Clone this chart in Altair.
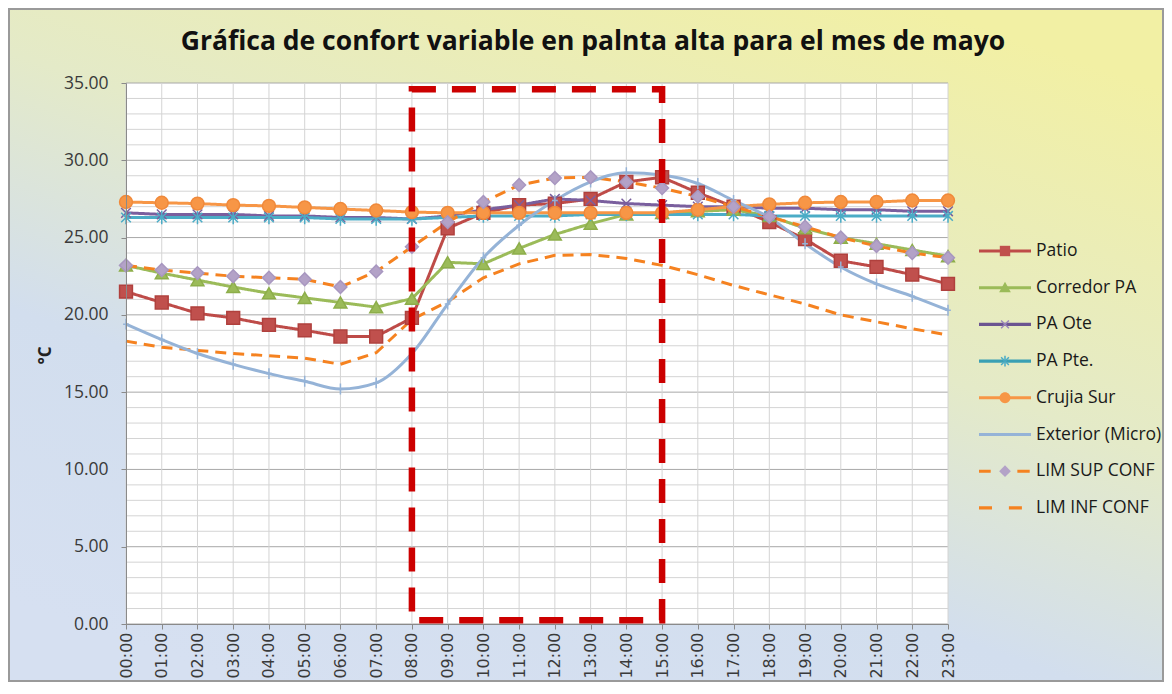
import json
import altair as alt
import pandas as pd

# ---------------- data ----------------
title_text = "Gráfica de confort variable en palnta alta para el mes de  mayo"
y_title = "°C"
hours = ["00:00", "01:00", "02:00", "03:00", "04:00", "05:00", "06:00", "07:00",
         "08:00", "09:00", "10:00", "11:00", "12:00", "13:00", "14:00", "15:00",
         "16:00", "17:00", "18:00", "19:00", "20:00", "21:00", "22:00", "23:00"]
series_names = ["Patio", "Corredor PA", "PA Ote", "PA Pte.", "Crujia Sur",
                "Exterior (Micro)", "LIM SUP CONF", "LIM INF CONF"]

patio = [21.5, 20.8, 20.1, 19.8, 19.35, 19.0, 18.6, 18.6, 19.8, 25.6, 26.6, 27.1,
         27.2, 27.5, 28.6, 28.9, 27.9, 27.0, 26.0, 24.9, 23.5, 23.1, 22.6, 22.0]
corredor = [23.2, 22.7, 22.25, 21.8, 21.4, 21.1, 20.8, 20.5, 21.05, 23.4, 23.3, 24.3,
            25.2, 25.9, 26.5, 26.6, 26.7, 26.8, 26.4, 25.6, 25.0, 24.6, 24.2, 23.8]
pa_ote = [26.6, 26.5, 26.5, 26.5, 26.4, 26.4, 26.3, 26.3, 26.2, 26.4, 26.8, 27.1,
          27.5, 27.4, 27.2, 27.1, 27.0, 27.0, 26.9, 26.9, 26.8, 26.8, 26.7, 26.7]
pa_pte = [26.3, 26.3, 26.3, 26.3, 26.3, 26.3, 26.2, 26.2, 26.2, 26.3, 26.4, 26.4,
          26.4, 26.5, 26.5, 26.5, 26.5, 26.5, 26.4, 26.4, 26.4, 26.4, 26.4, 26.4]
crujia = [27.3, 27.25, 27.2, 27.1, 27.05, 26.95, 26.85, 26.75, 26.65, 26.6, 26.6, 26.6,
          26.6, 26.6, 26.6, 26.6, 26.8, 27.0, 27.15, 27.25, 27.3, 27.3, 27.4, 27.4]
exterior = [19.4, 18.4, 17.5, 16.8, 16.2, 15.7, 15.2, 15.6, 17.5, 20.7, 23.7, 25.8,
            27.4, 28.6, 29.2, 29.05, 28.5, 27.4, 26.3, 24.6, 23.1, 22.0, 21.2, 20.3]
lim_sup = [23.2, 22.9, 22.7, 22.5, 22.4, 22.3, 21.8, 22.8, 24.4, 26.0, 27.3, 28.4,
           28.85, 28.9, 28.6, 28.2, 27.65, 27.0, 26.35, 25.7, 25.0, 24.45, 24.0, 23.7]
lim_inf = [18.3, 17.9, 17.7, 17.5, 17.35, 17.2, 16.8, 17.55, 19.7, 20.85, 22.4, 23.3,
           23.85, 23.9, 23.65, 23.2, 22.6, 21.9, 21.3, 20.7, 20.0, 19.55, 19.1, 18.7]
series_values = [patio, corredor, pa_ote, pa_pte, crujia, exterior, lim_sup, lim_inf]

box_hours = ["08:00", "15:00"]
box_temps = [0.25, 34.6]
y_ticks = [0, 5, 10, 15, 20, 25, 30, 35]
y_grid = list(range(0, 36))

# ---------------- styling ----------------
FONT = "Open Sans"
XFONT = "DejaVu Sans"
W, H = 822, 541
line_colors = ["#BE4B48", "#9BBB59", "#7A5F9E", "#4BACC6", "#F79646", "#95B3D7", "#F58220", "#F58220"]
dash_patterns = [[1, 0], [1, 0], [1, 0], [1, 0], [1, 0], [1, 0], [11, 7], [11, 7]]

marker_series = ["Patio", "Corredor PA", "PA Ote", "PA Pte.", "Crujia Sur", "Exterior (Micro)", "LIM SUP CONF"]
marker_shapes = ["square", "triangle-up", "M-0.75,-0.75L0.75,0.75M-0.75,0.75L0.75,-0.75",
                 "M-0.75,-0.75L0.75,0.75M-0.75,0.75L0.75,-0.75M0,-1.05L0,1.05",
                 "circle", "M-0.45,0L0.45,0M0,-0.85L0,0.85", "diamond"]
marker_fill = ["#C0504D", "#9BBB59", "transparent", "transparent", "#F79646", "transparent", "#B3A2C7"]
marker_stroke = ["#B0403D", "#8DAE4A", "#7A5F9E", "#4BACC6", "#F0893A", "#95B3D7", "#A897C0"]

# legend symbols (unit = 13px, symbol spans -1..3)
L_SOLID = "M-1,-0.12H3V0.12H-1Z"
L_DASH_SUP = "M-1,-0.12H-0.1V0.12H-1Z M1.95,-0.12H2.9V0.12H1.95Z"
L_DASH_INF = "M-1,-0.12H0V0.12H-1Z M1.3,-0.12H2.3V0.12H1.3Z"
legend_lines = [L_SOLID] * 6 + [L_DASH_SUP, L_DASH_INF]
legend_line_colors = ["#BE4B48", "#9BBB59", "#6B5491", "#3AA0B4", "#F79646", "#95B3D7", "#F58220", "#F58220"]
X_PATH = ("M0.66,-0.26L1.26,0.34L1.34,0.26L0.74,-0.34Z "
          "M0.74,0.34L1.34,-0.26L1.26,-0.34L0.66,0.26Z")
legend_marks = ["M0.6,-0.4H1.4V0.4H0.6Z",
                "M1,-0.45L1.45,0.35H0.55Z",
                X_PATH,
                X_PATH + " M0.94,-0.42H1.06V0.42H0.94Z",
                "M1.42,0A0.42,0.42 0 1 1 0.58,0A0.42,0.42 0 1 1 1.42,0Z",
                "M0.95,-0.3H1.05V0.3H0.95Z",
                "M1,-0.45L1.45,0L1,0.45L0.55,0Z",
                "M1,0Z"]
legend_mark_colors = ["#C0504D", "#9BBB59", "#9A86BA", "#4BACC6", "#F79646", "transparent", "#B3A2C7", "transparent"]

# ---------------- tables ----------------
rows = []
for name, vals in zip(series_names, series_values):
    for i, v in enumerate(vals):
        rows.append({"hour": i, "series": name, "value": v})
df = pd.DataFrame(rows)
legend_df = pd.DataFrame({"series": series_names})
one = pd.DataFrame({"k": [0]})
hgrid_df = pd.DataFrame({"v": y_grid})
vgrid_df = pd.DataFrame({"h": list(range(len(hours)))})
box_df = pd.DataFrame({"x0": [hours.index(box_hours[0])], "x1": [hours.index(box_hours[1])],
                       "y0": [box_temps[0]], "y1": [box_temps[1]]})

xscale = alt.Scale(domain=[0, len(hours) - 1], nice=False, zero=False)
yscale = alt.Scale(domain=[0, 35], nice=False)

xaxis = alt.Axis(values=list(range(len(hours))), labelExpr=json.dumps(hours) + "[datum.value]",
                 labelAngle=270, labelAlign="right", labelBaseline="middle", labelFont=XFONT,
                 labelFontSize=16, labelColor="#3a3a3a", labelPadding=3, labelFlush=False,
                 labelOverlap=False, tickSize=5, tickColor="#8a8a8a", domainColor="#8a8a8a",
                 grid=False, zindex=1)
yaxis = alt.Axis(values=y_ticks, format=".2f", labelFont=FONT, labelFontSize=17.5,
                 labelColor="#3a3a3a", labelPadding=13, tickSize=5, tickColor="#8a8a8a",
                 domainColor="#8a8a8a", grid=False, zindex=1, titleAngle=270,
                 titleX=-81, titleY=272, titleAlign="center", titleBaseline="middle",
                 titleFont=FONT, titleFontSize=17, titleFontWeight="bold", titleColor="#222222")


def xenc(field):
    return alt.X(field, scale=xscale, axis=xaxis, title=None)


def yenc(field):
    return alt.Y(field, scale=yscale, axis=yaxis, title=y_title)


grad = alt.LinearGradient(gradient="linear", x1=0.8, y1=0, x2=0.2, y2=1, stops=[
    alt.GradientStop(color="#F2F0A4", offset=0),
    alt.GradientStop(color="#E4EAC8", offset=0.4),
    alt.GradientStop(color="#D2DEEE", offset=0.68),
    alt.GradientStop(color="#D6E0F1", offset=1)])

bg = alt.Chart(one).mark_rect(fill=grad, stroke="#9a9a9a", strokeWidth=2).encode(
    x=alt.value(-117), x2=alt.value(W + 215), y=alt.value(-74), y2=alt.value(H + 57))
plot_bg = alt.Chart(one).mark_rect(fill="white").encode(
    x=alt.value(0), x2=alt.value(W), y=alt.value(0), y2=alt.value(H))

hgrid = alt.Chart(hgrid_df).mark_rule(strokeWidth=1).encode(
    y=yenc("v:Q"),
    color=alt.condition("datum.v % 5 == 0", alt.value("#A8A8A8"), alt.value("#D4D4D4")))
vgrid = alt.Chart(vgrid_df).mark_rule(strokeWidth=1, color="#D4D4D4").encode(
    x=xenc("h:Q"))

color_enc = alt.Color("series:N", scale=alt.Scale(domain=series_names, range=line_colors), legend=None)
dash_enc = alt.StrokeDash("series:N", scale=alt.Scale(domain=series_names, range=dash_patterns), legend=None)

lines = alt.Chart(df).transform_filter("datum.series != 'Exterior (Micro)'").mark_line(
    strokeWidth=3).encode(
    x=xenc("hour:Q"), y=yenc("value:Q"),
    color=color_enc, strokeDash=dash_enc, detail="series:N")
ext_line = alt.Chart(df).transform_filter("datum.series == 'Exterior (Micro)'").mark_line(
    strokeWidth=3, interpolate="monotone", color="#95B3D7").encode(
    x=xenc("hour:Q"), y=yenc("value:Q"))

points = alt.Chart(df).transform_filter("datum.series != 'LIM INF CONF'").mark_point(
    filled=True, size=165, strokeWidth=1.5, opacity=1).encode(
    x=xenc("hour:Q"), y=yenc("value:Q"),
    shape=alt.Shape("series:N", scale=alt.Scale(domain=marker_series, range=marker_shapes), legend=None),
    fill=alt.Fill("series:N", scale=alt.Scale(domain=marker_series, range=marker_fill), legend=None),
    stroke=alt.Stroke("series:N", scale=alt.Scale(domain=marker_series, range=marker_stroke), legend=None))

box = alt.Chart(box_df).mark_rect(fillOpacity=0, stroke="#CC0000", strokeWidth=6.5,
                                  strokeDash=[24, 16]).encode(
    x=xenc("x0:Q"), x2="x1", y=yenc("y0:Q"), y2="y1")

title = alt.Chart(one).mark_text(text=title_text, font=FONT, fontSize=26.5, fontWeight="bold",
                                 color="#111111", align="center", baseline="middle").encode(
    x=alt.value(467), y=alt.value(-41))


def make_legend(shapes, colors, label_color):
    leg = alt.Legend(orient="none", legendX=853, legendY=155, title=None, symbolSize=676,
                     symbolStrokeWidth=0, symbolOpacity=1, labelFont=FONT, labelFontSize=17.5,
                     labelColor=label_color, labelOffset=31, rowPadding=14.7, padding=0,
                     labelLimit=300, symbolOffset=0)
    return alt.Chart(legend_df).mark_point(filled=True, opacity=0).encode(
        shape=alt.Shape("series:N", scale=alt.Scale(domain=series_names, range=shapes), legend=leg),
        fill=alt.Fill("series:N", scale=alt.Scale(domain=series_names, range=colors), legend=leg))


legA = make_legend(legend_lines, legend_line_colors, "#1a1a1a")
legB = make_legend(legend_marks, legend_mark_colors, "transparent")

chart = alt.layer(bg, plot_bg, hgrid, vgrid, lines, ext_line, points, box, title, legA, legB).resolve_scale(
    color="independent", fill="independent", stroke="independent", shape="independent",
    strokeDash="independent").properties(
    width=W, height=H, autosize=alt.AutoSizeParams(type="none"),
    padding={"left": 118, "top": 75, "right": 216, "bottom": 58}).configure_view(strokeWidth=0)

chart.save("out.html", embed_options={"renderer": "svg", "actions": False})
